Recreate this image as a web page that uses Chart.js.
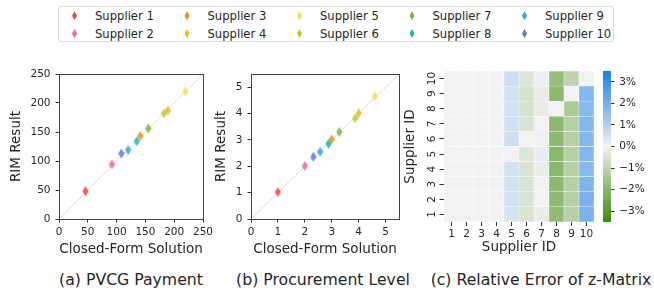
<!doctype html>
<html lang="en">
<head>
<meta charset="utf-8">
<title>RIM vs Closed-Form</title>
<script src="https://cdn.jsdelivr.net/npm/chart.js@4.4.1/dist/chart.umd.min.js"></script>
<style>
  body { margin: 0; width: 654px; height: 292px; position: relative; overflow: hidden; background: #fff;
         font-family: "DejaVu Sans", sans-serif; color: #262626; }
  canvas { position: absolute; }
  .legend { position: absolute; left: 58px; top: 6px; width: 556px; height: 36px; box-sizing: border-box;
            border: 1px solid #d9d9d9; border-radius: 3px; display: grid; grid-auto-flow: column;
            grid-template-columns: repeat(5, 112.5px); grid-template-rows: 17.7px 17.7px; padding-left: 13px; }
  .legend div { display: flex; align-items: center; font-size: 11.6px; white-space: nowrap; }
  .legend i { display: inline-block; width: 5px; height: 9px; margin-right: 18px;
              clip-path: polygon(50% 0, 100% 50%, 50% 100%, 0 50%); }
  .cap { position: absolute; top: 271px; width: 260px; text-align: center; font-size: 15.7px;
         line-height: 18px; white-space: nowrap; }
</style>
</head>
<body>
<div class="legend" id="legend"></div>
<canvas id="chartA" width="217" height="202" style="left:0;top:60px"></canvas>
<canvas id="chartB" width="200" height="202" style="left:205px;top:60px"></canvas>
<canvas id="chartC" width="205" height="202" style="left:395px;top:60px"></canvas>
<canvas id="chartCb" width="59" height="202" style="left:595px;top:60px"></canvas>
<div class="cap" style="left:1px">(a) PVCG Payment</div>
<div class="cap" style="left:193px">(b) Procurement Level</div>
<div class="cap" style="left:411px">(c) Relative Error of z-Matrix</div>

<script>
// ---- data ----
const suppliers = ["Supplier 1", "Supplier 2", "Supplier 3", "Supplier 4", "Supplier 5",
                   "Supplier 6", "Supplier 7", "Supplier 8", "Supplier 9", "Supplier 10"];
const colors = ["#e9493f", "#f06a95", "#f28a1e", "#f2b32e", "#ece35a",
                "#b5cf2d", "#7cb545", "#12bf9b", "#2aa6f2", "#5f7ad8"];

const paymentClosed = [46, 92, 141, 189, 219, 182, 155, 135, 120, 108];
const paymentRim    = [48, 94, 143, 187, 220, 182, 156, 134, 119, 113];
const paymentTicks  = [0, 50, 100, 150, 200, 250];

const levelClosed = [1.0, 2.0, 3.0, 4.0, 4.6, 3.87, 3.28, 2.88, 2.57, 2.32];
const levelRim    = [1.02, 2.01, 3.02, 4.01, 4.66, 3.82, 3.3, 2.85, 2.55, 2.36];
const levelTicks  = [0, 1, 2, 3, 4, 5];

const supplierIds = [1, 2, 3, 4, 5, 6, 7, 8, 9, 10];
// relative error (%) of z-matrix, row = supplier id on y axis (1 at bottom), column = supplier id on x axis
const zError = [
  [0, 0, 0, 0, 0.45, -0.5, -0.15, -1.85, -1.1, 1.95],
  [0, 0, 0, 0, 0.5, -0.5, 0, -1.9, -1.15, 1.95],
  [0, 0, 0, 0, 0.5, -0.5, 0, -1.95, -1.15, 1.9],
  [0, 0, 0, 0, 0.5, -0.5, -0.15, -2.0, -1.15, 1.75],
  [0, 0, 0, 0, 0, -0.4, 0.15, -2.0, -1.15, 1.8],
  [0, 0, 0, 0, 0.6, 0, 0.05, -1.95, -1.2, 1.8],
  [0, 0, 0, 0, 0.55, -0.5, 0, -1.95, -1.15, 1.8],
  [0, 0, 0, 0, 0.5, -0.55, -0.2, 0, -1.35, 1.75],
  [0, 0, 0, 0, 0.5, -0.55, -0.2, -1.95, 0, 1.8],
  [0, 0, 0, 0, 0.65, -0.4, 0.1, -1.75, -1.0, 0]
];
const cbTicks = [-3, -2, -1, 0, 1, 2, 3];
const cbMin = -3.5, cbMax = 3.5;

// ---- helpers ----
Chart.defaults.font.family = "DejaVu Sans";
Chart.defaults.color = "#262626";

const neutral = [242, 242, 242], blueEnd = [24, 128, 236], greenEnd = [60, 138, 8];
function colorFor(v) {
  const t = Math.max(-1, Math.min(1, v / cbMax));
  const end = t >= 0 ? blueEnd : greenEnd;
  const a = Math.abs(t);
  return "rgb(" + neutral.map((n, i) => Math.round(n + (end[i] - n) * a)).join(",") + ")";
}

function diamond(color) {
  const c = document.createElement("canvas");
  c.width = 7; c.height = 11;
  const g = c.getContext("2d");
  g.globalAlpha = 0.85;
  g.fillStyle = color;
  g.beginPath();
  g.moveTo(3.5, 0.6); g.lineTo(6.6, 5.5); g.lineTo(3.5, 10.4); g.lineTo(0.4, 5.5);
  g.closePath(); g.fill();
  return c;
}

const legend = document.getElementById("legend");
suppliers.forEach((s, i) => {
  const d = document.createElement("div");
  d.innerHTML = '<i style="background:' + colors[i] + '"></i>' + s;
  legend.appendChild(d);
});

const frame = {
  id: "frame",
  afterDraw(chart) {
    const a = chart.chartArea, ctx = chart.ctx;
    ctx.save();
    ctx.strokeStyle = "#444";
    ctx.lineWidth = 1;
    ctx.strokeRect(Math.round(a.left) + 0.5, Math.round(a.top) + 0.5,
                   Math.round(a.right - a.left), Math.round(a.bottom - a.top));
    ctx.restore();
  }
};

function linAxis(title, max, ticks, size, tickPad, titlePad) {
  return {
    type: "linear", min: 0, max: max,
    afterBuildTicks: s => { s.ticks = ticks.map(v => ({ value: v })); },
    afterFit: s => { if (s.isHorizontal()) s.height = size; else s.width = size; },
    grid: { drawOnChartArea: false, drawTicks: true, tickLength: 3.5, color: "#333" },
    border: { display: false },
    ticks: { font: { size: 10.5 }, padding: tickPad, maxRotation: 0, autoSkip: false },
    title: { display: true, text: title, font: { size: 13.5 }, padding: titlePad }
  };
}

function scatterChart(id, xs, ys, max, ticks, yWidth, padRight) {
  const datasets = suppliers.map((name, i) => ({
    label: name,
    data: [{ x: xs[i], y: ys[i] }],
    pointStyle: diamond(colors[i]),
    pointRadius: 5,
    order: 10 - i
  }));
  datasets.push({
    label: "y = x",
    data: [{ x: 0, y: 0 }, { x: max, y: max }],
    showLine: true, pointRadius: 0,
    borderColor: "rgba(150,150,150,0.8)", borderWidth: 0.8, borderDash: [1.5, 1.5],
    order: 20
  });
  new Chart(document.getElementById(id).getContext("2d"), {
    type: "scatter",
    data: { datasets },
    options: {
      responsive: false, animation: false,
      layout: { padding: { left: 0, top: 14, right: padRight, bottom: 0 } },
      plugins: { legend: { display: false }, tooltip: { enabled: false } },
      scales: {
        x: linAxis("Closed-Form Solution", max, ticks, 43, 3.5, { top: 0, bottom: 4.9 }),
        y: linAxis("RIM Result", max, ticks, yWidth, 5, { top: 8.5, bottom: 0 })
      }
    },
    plugins: [frame]
  });
}

scatterChart("chartA", paymentClosed, paymentRim, 250, paymentTicks, 59, 14);
scatterChart("chartB", levelClosed, levelRim, 5.5, levelTicks, 46, 4);

// ---- heatmap ----
const rotatedY = {
  id: "rotatedY",
  afterDraw(chart) {
    const s = chart.scales.y, ctx = chart.ctx;
    ctx.save();
    ctx.font = "10.5px 'DejaVu Sans'";
    ctx.fillStyle = "#262626";
    ctx.textAlign = "center";
    ctx.textBaseline = "middle";
    supplierIds.forEach(v => {
      ctx.save();
      ctx.translate(37, s.getPixelForValue(v));
      ctx.rotate(-Math.PI / 2);
      ctx.fillText(String(v), 0, 0);
      ctx.restore();
    });
    ctx.restore();
  }
};

new Chart(document.getElementById("chartC").getContext("2d"), {
  type: "bar",
  data: {
    labels: supplierIds.map(String),
    datasets: zError.map((row, r) => ({
      label: "row " + supplierIds[r],
      data: row.map(() => [supplierIds[r] - 0.5, supplierIds[r] + 0.5]),
      backgroundColor: row.map(colorFor),
      borderColor: "#ffffff", borderWidth: 0.5, borderSkipped: false,
      grouped: false, barPercentage: 1, categoryPercentage: 1
    }))
  },
  options: {
    responsive: false, animation: false,
    layout: { padding: { left: 0, top: 11, right: 6, bottom: 0 } },
    plugins: { legend: { display: false }, tooltip: { enabled: false } },
    scales: {
      x: {
        afterFit: s => { s.height = 40; },
        grid: { offset: false, drawOnChartArea: false, drawTicks: true, tickLength: 4, color: "#333" },
        border: { display: false },
        ticks: { font: { size: 10.5 }, padding: 2, maxRotation: 0, autoSkip: false },
        title: { display: true, text: "Supplier ID", font: { size: 13.5 }, padding: { top: 0, bottom: 6.2 } }
      },
      y: {
        type: "linear", min: 0.5, max: 10.5,
        afterBuildTicks: s => { s.ticks = supplierIds.map(v => ({ value: v })); },
        afterFit: s => { s.width = 49; },
        grid: { drawOnChartArea: false, drawTicks: true, tickLength: 4.5, color: "#333" },
        border: { display: false },
        ticks: { display: false },
        title: { display: true, text: "Supplier ID", font: { size: 13.5 }, padding: { top: 6.9, bottom: 0 } }
      }
    }
  },
  plugins: [rotatedY]
});

// ---- colorbar ----
new Chart(document.getElementById("chartCb").getContext("2d"), {
  type: "bar",
  data: {
    labels: [""],
    datasets: [{
      data: [[cbMin, cbMax]],
      borderWidth: 0, barPercentage: 1, categoryPercentage: 1,
      backgroundColor: c => {
        const ch = c.chart;
        if (!ch.chartArea) return null;
        const y = ch.scales.y;
        const g = ch.ctx.createLinearGradient(0, y.getPixelForValue(cbMin), 0, y.getPixelForValue(cbMax));
        for (let i = 0; i <= 14; i++) g.addColorStop(i / 14, colorFor(cbMin + (cbMax - cbMin) * i / 14));
        return g;
      }
    }]
  },
  options: {
    responsive: false, animation: false,
    layout: { padding: { left: 8, top: 10, right: 0, bottom: 40 } },
    plugins: { legend: { display: false }, tooltip: { enabled: false } },
    scales: {
      x: { display: false },
      y: {
        type: "linear", position: "right", min: cbMin, max: cbMax,
        afterBuildTicks: s => { s.ticks = cbTicks.map(v => ({ value: v })); },
        afterFit: s => { s.width = 43; },
        grid: { drawOnChartArea: false, drawTicks: true, tickLength: 3.5, color: "#333" },
        border: { display: false },
        ticks: { font: { size: 10.5 }, padding: 4.8,
                 callback: v => (v < 0 ? "\u2212" + Math.abs(v) : v) + "%" }
      }
    }
  }
});
</script>
</body>
</html>
